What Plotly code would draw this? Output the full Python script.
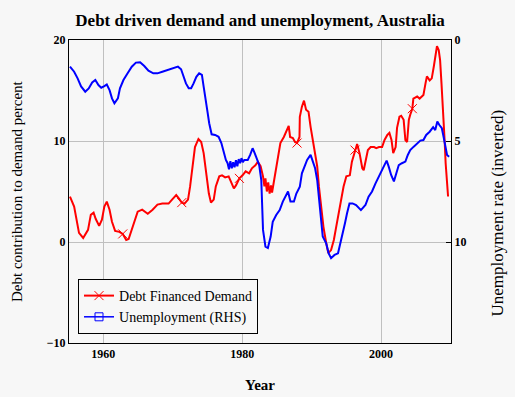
import plotly.graph_objects as go

# ---------------- data ----------------
debt_years = [1955.2, 1955.8, 1956.5, 1957.1, 1957.8, 1958.2, 1958.6, 1958.9, 1959.4, 1959.8,
              1960.15, 1960.5, 1960.9, 1961.25, 1961.7, 1962.3, 1962.8, 1963.3, 1963.65, 1964.1,
              1964.5, 1964.95, 1965.6, 1966.4, 1967.1, 1967.8, 1968.5, 1969.4, 1969.9, 1970.5,
              1970.9, 1971.3, 1971.7, 1972.2, 1972.5, 1972.9, 1973.2, 1973.7, 1974.1, 1974.45,
              1974.8, 1975.2, 1975.5, 1975.9, 1976.2, 1976.7, 1977.1, 1977.55, 1978.05, 1978.4,
              1978.8, 1979.1, 1979.6, 1980.05, 1980.5, 1981.0, 1981.4, 1981.9, 1982.25, 1982.65,
              1983.0, 1983.2, 1983.35, 1983.55, 1983.75, 1983.95, 1984.15, 1984.3, 1984.45, 1984.75,
              1985.1, 1985.5, 1986.0, 1986.5, 1986.7, 1986.9, 1987.3, 1987.6, 1987.9, 1988.25,
              1988.3, 1988.6, 1988.9, 1989.2, 1989.55, 1989.85, 1990.2, 1990.5, 1990.8, 1991.05,
              1991.4, 1991.7, 1992.1, 1992.4, 1992.8, 1993.2, 1993.5, 1993.9, 1994.25, 1994.6,
              1995.0, 1995.5, 1995.8, 1996.25, 1996.55, 1996.9, 1997.3, 1997.5, 1997.75, 1998.1,
              1998.5, 1999.0, 1999.3, 1999.7, 2000.15, 2000.5, 2000.9, 2001.2, 2001.5, 2001.75,
              2002.1, 2002.3, 2002.65, 2002.9, 2003.25, 2003.5, 2003.75, 2004.0, 2004.2, 2004.5,
              2004.65, 2005.2, 2005.55, 2006.1, 2006.4, 2006.6, 2007.0, 2007.3, 2007.6, 2007.8,
              2008.05, 2008.3, 2008.5, 2008.7, 2008.85, 2009.0, 2009.15, 2009.3, 2009.5, 2009.65]
debt_values = [4.5, 3.5, 0.9, 0.4, 1.2, 2.7, 2.9, 2.3, 1.6, 2.2,
               3.5, 4.0, 3.2, 2.0, 1.1, 1.0, 0.8, 0.2, 0.3, 1.2,
               2.2, 3.0, 3.2, 2.8, 3.2, 3.7, 3.8, 3.8, 4.2, 4.65,
               4.3, 3.9, 3.8, 4.2, 5.5, 7.8, 9.4, 10.2, 9.9, 8.8,
               6.8, 4.8, 3.9, 4.2, 5.5, 6.5, 6.6, 6.4, 6.5, 6.0,
               5.3, 5.6, 6.3, 6.6, 7.0, 6.8, 7.3, 7.6, 7.95, 7.5,
               6.5, 5.5, 6.3, 5.0, 5.9, 4.8, 5.6, 4.9, 5.5, 7.0,
               8.1, 9.8, 10.4, 11.1, 11.5, 10.4, 10.3, 9.9, 9.8, 10.4,
               12.4, 13.4, 14.0, 13.1, 12.9, 11.4, 10.1, 8.8, 7.5, 5.5,
               3.5, 1.5, -0.1, -1.1, -0.8, 0.2, 1.35, 2.85, 4.5, 5.5,
               6.5, 6.6, 7.95, 9.1, 9.7, 8.8, 7.3, 7.1, 8.1, 9.1,
               9.4, 9.4, 9.3, 9.4, 9.4, 10.1, 10.6, 10.8, 10.1, 8.8,
               9.4, 11.3, 12.4, 12.5, 12.1, 10.1, 9.9, 12.1, 12.6, 13.2,
               14.2, 14.4, 14.2, 14.55, 15.7, 16.4, 16.0, 16.2, 17.4, 18.5,
               19.4, 19.0, 18.0, 15.7, 14.1, 11.75, 10.1, 7.8, 5.8, 4.5]
debt_marker_years = [1962.8, 1971.3, 1979.6, 1987.9, 1996.25, 2004.5]

unemp_years = [1955.2, 1955.8, 1956.3, 1956.8, 1957.4, 1957.9, 1958.4, 1958.85, 1959.3, 1959.7,
               1960.15, 1960.5, 1960.9, 1961.25, 1961.6, 1962.1, 1962.4, 1962.9, 1963.5, 1964.1,
               1964.7, 1965.3, 1965.9, 1966.5, 1967.2, 1967.8, 1968.5, 1969.2, 1969.9, 1970.75,
               1971.2, 1971.55, 1971.9, 1972.3, 1972.65, 1973.0, 1973.4, 1973.8, 1974.2, 1974.45,
               1974.8, 1975.0, 1975.25, 1975.6, 1976.1, 1976.6, 1977.0, 1977.3, 1977.65, 1977.9,
               1978.1, 1978.3, 1978.5, 1978.7, 1978.9, 1979.1, 1979.3, 1979.5, 1979.7, 1979.9,
               1980.1, 1980.3, 1980.8, 1981.15, 1981.5, 1981.8, 1982.1, 1982.45, 1982.75, 1982.85,
               1983.0, 1983.35, 1983.7, 1984.1, 1984.4, 1984.9, 1985.4, 1985.85, 1986.3, 1986.6,
               1986.95, 1987.45, 1987.8, 1988.3, 1988.6, 1989.0, 1989.35, 1989.85, 1990.2, 1990.5,
               1990.8, 1991.05, 1991.3, 1991.6, 1992.1, 1992.45, 1992.8, 1993.3, 1993.8, 1994.15,
               1994.5, 1994.8, 1995.1, 1995.45, 1995.9, 1996.4, 1997.1, 1997.75, 1998.2, 1998.7,
               1999.2, 1999.7, 2000.15, 2000.5, 2000.8, 2001.1, 2001.45, 2001.85, 2002.2, 2002.55,
               2003.0, 2003.5, 2003.85, 2004.2, 2004.7, 2005.2, 2005.65, 2006.1, 2006.5, 2007.0,
               2007.5, 2007.8, 2008.1, 2008.4, 2008.75, 2009.0, 2009.25, 2009.5, 2009.8]
unemp_values = [1.32, 1.57, 1.9, 2.3, 2.56, 2.4, 2.1, 1.98, 2.23, 2.36,
                2.28, 2.2, 2.48, 2.89, 3.13, 2.89, 2.39, 1.98, 1.65, 1.32,
                1.12, 1.1, 1.29, 1.52, 1.65, 1.65, 1.57, 1.49, 1.4, 1.32,
                1.45, 1.82, 2.15, 2.39, 2.39, 2.15, 1.82, 1.65, 1.73, 2.31,
                2.97, 3.55, 4.12, 4.67, 4.7, 4.79, 5.1, 5.5, 5.94, 6.1,
                6.4, 6.0, 6.35, 6.05, 6.3, 5.95, 6.25, 5.9, 6.1, 5.85,
                6.05, 5.94, 5.94, 5.69, 5.36, 5.6, 5.86, 6.19, 6.93, 8.25,
                9.4, 10.23, 10.3, 9.73, 9.0, 8.66, 8.42, 8.0, 7.67, 7.5,
                8.0, 8.0, 7.6, 7.26, 6.6, 6.27, 5.94, 5.69, 6.02, 6.35,
                6.93, 7.76, 8.91, 9.73, 10.07, 10.56, 10.8, 10.64, 10.56, 10.07,
                9.57, 9.07, 8.58, 8.09, 8.09, 8.17, 8.42, 8.17, 7.76, 7.5,
                7.1, 6.77, 6.44, 6.19, 5.97, 6.27, 6.68, 7.0, 6.6, 6.19,
                6.1, 6.02, 5.69, 5.45, 5.28, 5.11, 4.98, 4.95, 4.7, 4.54,
                4.32, 4.46, 4.04, 4.21, 4.37, 4.79, 5.28, 5.69, 5.78]

x_tick_vals = [1960, 1980, 2000]
left_tick_vals = [-10, 0, 10, 20]
right_tick_vals = [0, 5, 10]

# ---------------- figure ----------------
BG = "#f7f7f7"
RED = "#ff0000"
BLUE = "#0000ff"
SERIF = "Liberation Serif, Times New Roman, serif"

fig = go.Figure()
fig.add_trace(go.Scatter(x=debt_years, y=debt_values, mode="lines",
                         line=dict(color=RED, width=2), showlegend=False, hoverinfo="skip"))
mk = [i for i, yr in enumerate(debt_years) if yr in debt_marker_years]
fig.add_trace(go.Scatter(x=[debt_years[i] for i in mk], y=[debt_values[i] for i in mk],
                         mode="markers", showlegend=False,
                         marker=dict(symbol="x-thin", size=9, line=dict(color=RED, width=1))))
fig.add_trace(go.Scatter(x=unemp_years, y=unemp_values, yaxis="y2", mode="lines",
                         line=dict(color=BLUE, width=2), showlegend=False))
# legend entries
fig.add_trace(go.Scatter(x=[None], y=[None], mode="lines+markers", name="Debt Financed Demand",
                         line=dict(color=RED, width=2),
                         marker=dict(symbol="x-thin", size=9, line=dict(color=RED, width=1))))
fig.add_trace(go.Scatter(x=[None], y=[None], mode="lines+markers", name="Unemployment (RHS)",
                         line=dict(color=BLUE, width=1.5),
                         marker=dict(symbol="square-open", size=8, color=BLUE)))

tickfont = dict(family=SERIF, size=12, color="black", weight="bold")

fig.update_layout(
    width=515, height=397,
    margin=dict(l=69, r=64, t=40, b=54),
    paper_bgcolor=BG, plot_bgcolor=BG,
    title=dict(text="Debt driven demand and unemployment, Australia",
               x=0.5, xref="paper", xanchor="center",
               y=1 - 20 / 397, yref="container", yanchor="middle",
               font=dict(family=SERIF, size=17, color="black", weight="bold")),
    xaxis=dict(range=[1955.06, 2010.07], tickvals=x_tick_vals, showgrid=True,
               gridcolor="#c0c0c0", gridwidth=1, showline=True, linecolor="black",
               linewidth=1, mirror=True, ticks="", zeroline=False, tickfont=tickfont),
    yaxis=dict(range=[-10, 20], tickvals=left_tick_vals, showgrid=True,
               gridcolor="#c0c0c0", gridwidth=1, showline=True, linecolor="black",
               linewidth=1, mirror=True, ticks="", zeroline=False, tickfont=tickfont),
    yaxis2=dict(range=[15, 0], tickvals=right_tick_vals, overlaying="y", side="right",
                showgrid=False, showline=True, linecolor="black", linewidth=1,
                ticks="inside", ticklen=5, tickcolor="black", zeroline=False,
                tickfont=tickfont),
    legend=dict(x=0.0236, y=0.0297, xanchor="left", yanchor="bottom",
                bgcolor=BG, bordercolor="black", borderwidth=1,
                font=dict(family=SERIF, size=14, color="black")),
    annotations=[
        dict(text="Year", xref="paper", yref="paper", x=0.5, y=-(385 - 343) / 303,
             xanchor="center", yanchor="middle", showarrow=False,
             font=dict(family=SERIF, size=15, color="black", weight="bold")),
        dict(text="Debt contribution to demand percent", xref="paper", yref="paper",
             x=(17 - 69) / 382, y=(343 - 191) / 303, xanchor="center", yanchor="middle",
             textangle=-90, showarrow=False,
             font=dict(family=SERIF, size=15, color="black")),
        dict(text="Unemployment rate (inverted)", xref="paper", yref="paper",
             x=(497 - 69) / 382, y=(343 - 213.5) / 303, xanchor="center", yanchor="middle",
             textangle=-90, showarrow=False,
             font=dict(family=SERIF, size=17, color="black")),
    ],
)

fig.write_html("out.html", config={"displayModeBar": False},
               post_script="document.body.style.margin='0';document.body.style.background='%s';" % BG)
